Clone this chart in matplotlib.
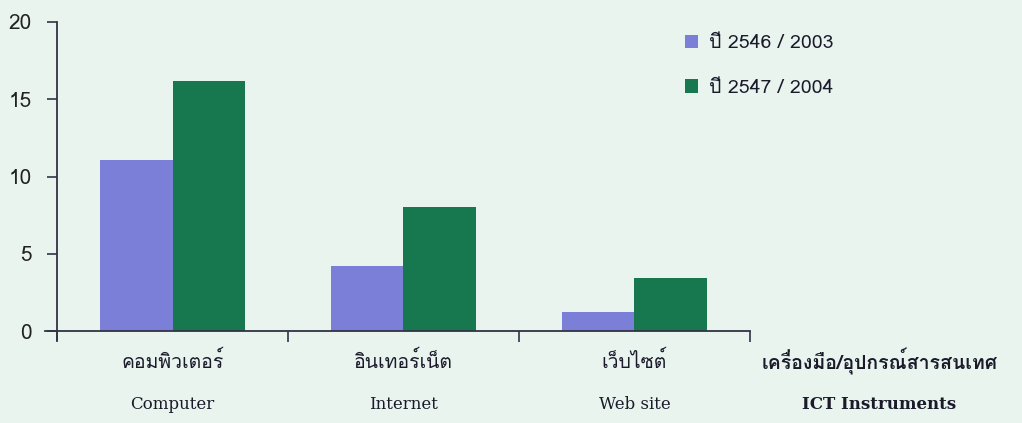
import matplotlib
matplotlib.use("Agg")
import matplotlib.pyplot as plt
from matplotlib import font_manager, ft2font
import numpy as np

# data
cats_th = ["คอมพิวเตอร์", "อินเทอร์เน็ต", "เว็บไซต์"]
cats_en = ["Computer", "Internet", "Web site"]
axis_th = "เครื่องมือ/อุปกรณ์สารสนเทศ"
axis_en = "ICT Instruments"
series = ["ปี 2546 / 2003", "ปี 2547 / 2004"]
y2003 = [11.1, 4.2, 1.2]
y2004 = [16.2, 8.0, 3.4]
colors = ["#7b7fd8", "#17774f"]
bg = "#e9f4ef"


# pick an installed font that actually has Thai glyphs
def thai_font():
    for f in font_manager.fontManager.ttflist:
        try:
            if 0x0E04 in ft2font.FT2Font(f.fname).get_charmap():
                return f.name
        except Exception:
            pass
    return None


th = thai_font()
fam = [th, "DejaVu Sans"] if th else ["DejaVu Sans"]
plt.rcParams["font.family"] = fam

fig = plt.figure(figsize=(10.22, 4.23), dpi=100, facecolor=bg)
ax = fig.add_axes([0.0445, 0.1955, 0.6893, 0.7525])
ax.set_facecolor(bg)

x = np.arange(len(cats_th)) + 0.5
w = 0.315
b1 = ax.bar(x - w / 2, y2003, w, color=colors[0], label=series[0])
b2 = ax.bar(x + w / 2, y2004, w, color=colors[1], label=series[1])

ax.set_xlim(-0.05, 3)
ax.set_ylim(-0.6, 20)
for s in ["top", "right"]:
    ax.spines[s].set_visible(False)
ax.spines["left"].set_position(("data", 0))
ax.spines["left"].set_bounds(-0.6, 20)
ax.spines["bottom"].set_position(("data", 0))
ax.spines["bottom"].set_bounds(-0.05, 3)
for s in ["left", "bottom"]:
    ax.spines[s].set_color("#333344")
    ax.spines[s].set_linewidth(1.3)

ax.set_yticks([0, 5, 10, 15, 20])
ax.tick_params(axis="y", length=7, width=1.2, color="#333344", labelsize=15, pad=11,
               labelcolor="#222222")
ax.set_xticks([0, 1, 2, 3])
ax.set_xticklabels([])
ax.tick_params(axis="x", length=8, width=1.2, color="#333344", direction="out")

# category labels, Thai above English
for xi, t, e in zip(x, cats_th, cats_en):
    ax.annotate(t, (xi, 0), xytext=(0, -22), textcoords="offset points", ha="center",
                va="center", fontsize=14, color="#1a1a2a", annotation_clip=False)
    ax.annotate(e, (xi, 0), xytext=(0, -53), textcoords="offset points", ha="center",
                va="center", fontsize=12, color="#1a1a2a", family="DejaVu Serif",
                annotation_clip=False)
ax.annotate(axis_th, (3.56, 0), xytext=(0, -22), textcoords="offset points", ha="center",
            va="center", fontsize=14, fontweight="bold", color="#1a1a2a",
            annotation_clip=False)
ax.annotate(axis_en, (3.56, 0), xytext=(0, -53), textcoords="offset points", ha="center",
            va="center", fontsize=12, fontweight="bold", color="#1a1a2a",
            family="DejaVu Serif", annotation_clip=False)

fig.legend(handles=[b1, b2], loc="upper left", bbox_to_anchor=(0.653, 0.96),
           frameon=False, fontsize=14, handlelength=0.7, handleheight=0.7,
           handletextpad=0.55, labelspacing=1.35, labelcolor="#1a1a2a")

fig.savefig("out.png", dpi=100, facecolor=bg)
